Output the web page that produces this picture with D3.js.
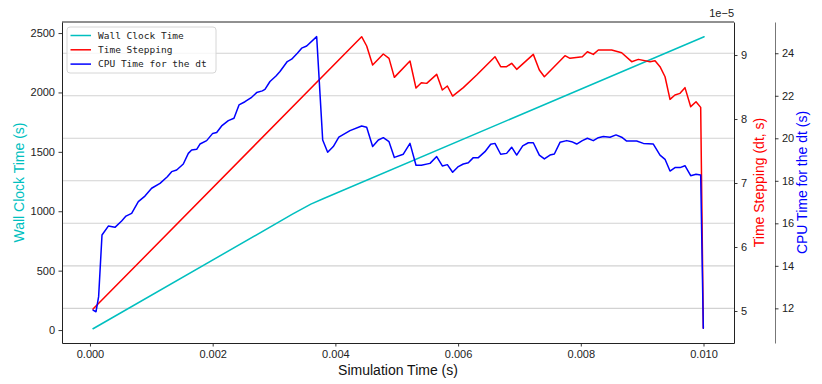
<!DOCTYPE html>
<html>
<head>
<meta charset="utf-8">
<script src="https://cdn.jsdelivr.net/npm/d3@7"></script>
<style>
body { margin: 0; background: #fff; }
text { font-family: "Liberation Sans", Arial, sans-serif; }
</style>
</head>
<body>
<svg id="chart" width="822" height="384"></svg>
<script>
// wall clock time (s) vs simulation time (s)
var wallTime  = [0.00005, 0.0033, 0.0036, 0.0038, 0.01001];
var wallClock = [11, 975, 1060, 1105, 2469];

// time step dt, values in units of 1e-5 s
var dtTime = [0.00005, 0.004428, 0.00451, 0.004607, 0.004781, 0.004874, 0.004961, 0.005216,
  0.005314, 0.005401, 0.005488, 0.005651, 0.005743, 0.005825, 0.005911, 0.006085, 0.006303,
  0.006601, 0.006694, 0.006791, 0.006873, 0.006955, 0.007226, 0.007324, 0.007406, 0.007742,
  0.007824, 0.008025, 0.008107, 0.008204, 0.008286, 0.008503, 0.008666, 0.008829, 0.008938,
  0.009128, 0.00921, 0.009291, 0.009373, 0.009454, 0.009535, 0.009617, 0.009698, 0.009791,
  0.009878, 0.009954, 0.009997];
var dtValues = [5.03, 9.286, 9.141, 8.844, 9.016, 8.948, 8.651, 8.906,
  8.484, 8.568, 8.557, 8.698, 8.453, 8.516, 8.359, 8.49, 8.688,
  8.974, 8.818, 8.818, 8.87, 8.776, 9.01, 8.766, 8.661, 8.99,
  8.948, 8.974, 9.052, 9.01, 9.078, 9.078, 9.036, 8.896, 8.932,
  8.896, 8.911, 8.818, 8.661, 8.307, 8.375, 8.401, 8.49, 8.193,
  8.271, 8.182, 4.73];

// CPU time per step (s)
var cpuTime = [0.00005, 0.000098, 0.000141, 0.000196, 0.000299, 0.000407, 0.000516, 0.000587,
  0.000679, 0.000788, 0.000896, 0.001005, 0.001141, 0.001261, 0.001331, 0.001413, 0.001521,
  0.001603, 0.001657, 0.001739, 0.001793, 0.001902, 0.002, 0.002065, 0.002146, 0.002255,
  0.002347, 0.002429, 0.002526, 0.002635, 0.002717, 0.002809, 0.002852, 0.002934, 0.003032,
  0.003097, 0.003216, 0.003287, 0.00338, 0.00345, 0.003532, 0.003695, 0.003793, 0.003874,
  0.003966, 0.004056, 0.004238, 0.004428, 0.00451, 0.004607, 0.0047, 0.004781, 0.004874,
  0.004961, 0.005107, 0.005216, 0.005314, 0.005401, 0.005542, 0.005651, 0.005743, 0.005825,
  0.005911, 0.006004, 0.006085, 0.006167, 0.006248, 0.00633, 0.006438, 0.006531, 0.006601,
  0.006694, 0.006791, 0.006873, 0.006955, 0.007053, 0.007145, 0.007226, 0.007324, 0.007406,
  0.007498, 0.007569, 0.007661, 0.00777, 0.007851, 0.007933, 0.008025, 0.008107, 0.008204,
  0.008286, 0.008367, 0.008476, 0.008574, 0.008666, 0.008748, 0.008911, 0.00902, 0.009182,
  0.009291, 0.009373, 0.009454, 0.009535, 0.009617, 0.009698, 0.009791, 0.009878, 0.009954,
  0.009997];
var cpuValues = [11.92, 11.84, 12.55, 15.45, 15.87, 15.81, 16.11, 16.34,
  16.47, 17.02, 17.28, 17.65, 17.88, 18.19, 18.43, 18.51, 18.79,
  19.29, 19.45, 19.48, 19.73, 19.89, 20.23, 20.27, 20.58, 20.83,
  20.94, 21.57, 21.72, 21.93, 22.15, 22.23, 22.3, 22.67, 22.93,
  23.14, 23.61, 23.72, 24.0, 24.24, 24.34, 24.78, 19.92, 19.34,
  19.61, 20.05, 20.36, 20.58, 20.52, 19.61, 19.92, 20.03, 19.84,
  19.1, 19.25, 19.76, 18.73, 18.73, 18.82, 19.14, 18.7, 18.76,
  18.4, 18.67, 18.79, 18.85, 19.09, 19.09, 19.37, 19.72, 19.76,
  19.25, 19.29, 19.58, 19.21, 19.64, 19.79, 19.79, 19.21, 19.03,
  19.21, 19.26, 19.81, 19.89, 19.84, 19.73, 19.89, 20.0, 19.89,
  20.03, 20.08, 20.05, 20.16, 20.05, 19.87, 19.87, 19.76, 19.73,
  19.21, 19.01, 18.46, 18.62, 18.62, 18.71, 18.24, 18.31, 18.27,
  11.06];

var xTicks = [0, 0.002, 0.004, 0.006, 0.008, 0.010];
var wallTicks = [0, 500, 1000, 1500, 2000, 2500];
var dtTicks = [5, 6, 7, 8, 9];
var cpuTicks = [12, 14, 16, 18, 20, 22, 24];
var seriesNames = ["Wall Clock Time", "Time Stepping", "CPU Time for the dt"];
var seriesColors = ["#00bfbf", "#ff0000", "#0000ff"];

var svg = d3.select("#chart"),
    margin = {top: 22, right: 88, bottom: 41, left: 62},
    width = +svg.attr("width") - margin.left - margin.right,
    height = +svg.attr("height") - margin.top - margin.bottom,
    g = svg.append("g").attr("transform", "translate(" + margin.left + "," + margin.top + ")");

var x = d3.scaleLinear().domain([-0.000456, 0.010497]).range([0, width]);
var yWall = d3.scaleLinear().domain([-109, 2593]).range([height, 0]);
var yDt = d3.scaleLinear().domain([4.5, 9.516]).range([height, 0]);
var yCpu = d3.scaleLinear().domain([10.37, 25.47]).range([height, 0]);

// grid from the CPU axis
g.append("g")
    .selectAll("line")
    .data(cpuTicks)
    .enter().append("line")
    .attr("x1", 0).attr("x2", width)
    .attr("y1", function(d) { return yCpu(d); })
    .attr("y2", function(d) { return yCpu(d); })
    .attr("stroke", "#d2d2d2")
    .attr("stroke-width", 1.1);

function pairs(xs, ys) {
    return xs.map(function(t, i) { return [t, ys[i]]; });
}

var lines = [
    {data: pairs(wallTime, wallClock), y: yWall, color: seriesColors[0]},
    {data: pairs(dtTime, dtValues), y: yDt, color: seriesColors[1]},
    {data: pairs(cpuTime, cpuValues), y: yCpu, color: seriesColors[2]}
];

lines.forEach(function(s) {
    g.append("path")
        .datum(s.data)
        .attr("fill", "none")
        .attr("stroke", s.color)
        .attr("stroke-width", 1.5)
        .attr("stroke-linejoin", "round")
        .attr("stroke-linecap", "round")
        .attr("d", d3.line()
            .x(function(d) { return x(d[0]); })
            .y(function(d) { return s.y(d[1]); }));
});

function styleAxis(sel, color) {
    sel.selectAll("text").attr("font-size", 11).attr("fill", "#222");
    sel.selectAll(".tick line").attr("stroke", "#222").attr("stroke-width", 0.9);
    sel.select(".domain").attr("stroke", color || "#222").attr("stroke-width", 1);
}

g.append("g")
    .attr("transform", "translate(0," + height + ")")
    .call(d3.axisBottom(x).tickValues(xTicks).tickFormat(d3.format(".3f")).tickSize(3.5).tickSizeOuter(0).tickPadding(4))
    .call(styleAxis);

g.append("g")
    .call(d3.axisLeft(yWall).tickValues(wallTicks).tickFormat(d3.format("d")).tickSize(3.5).tickSizeOuter(0).tickPadding(3.5))
    .call(styleAxis);

g.append("g")
    .attr("transform", "translate(" + width + ",0)")
    .call(d3.axisRight(yDt).tickValues(dtTicks).tickFormat(d3.format("d")).tickSize(3.5).tickSizeOuter(0).tickPadding(3.5))
    .call(styleAxis);

g.append("g")
    .attr("transform", "translate(" + (width + 41) + ",0)")
    .call(d3.axisRight(yCpu).tickValues(cpuTicks).tickSize(3.5).tickSizeOuter(0).tickPadding(3.5))
    .call(function(sel) { styleAxis(sel, "#777"); });

// top spine
g.append("line")
    .attr("x1", 0).attr("x2", width).attr("y1", 0).attr("y2", 0)
    .attr("stroke", "#222").attr("stroke-width", 1);

// offset text of the dt axis
g.append("text")
    .attr("x", width).attr("y", -5)
    .attr("text-anchor", "end")
    .attr("font-size", 11).attr("fill", "#222")
    .text("1e\u22125");

// axis labels
svg.append("text")
    .attr("x", margin.left + width / 2).attr("y", 375)
    .attr("text-anchor", "middle")
    .attr("font-size", 14).attr("fill", "#111")
    .text("Simulation Time (s)");

var yLabels = [
    {text: "Wall Clock Time (s)", x: 19, color: seriesColors[0]},
    {text: "Time Stepping (dt, s)", x: 759, color: seriesColors[1]},
    {text: "CPU Time for the dt (s)", x: 802, color: seriesColors[2]}
];
yLabels.forEach(function(l) {
    svg.append("text")
        .attr("transform", "translate(" + l.x + "," + (margin.top + height / 2) + ") rotate(-90)")
        .attr("text-anchor", "middle")
        .attr("dominant-baseline", "central")
        .attr("font-size", 14)
        .attr("fill", l.color)
        .text(l.text);
});

// legend
var legend = g.append("g").attr("transform", "translate(5,5)");
legend.append("rect")
    .attr("width", 149).attr("height", 46)
    .attr("rx", 3).attr("ry", 3)
    .attr("fill", "#fff").attr("fill-opacity", 0.8)
    .attr("stroke", "#d6d6d6").attr("stroke-width", 1);

var items = legend.selectAll(".item")
    .data(seriesNames)
    .enter().append("g")
    .attr("transform", function(d, i) { return "translate(0," + (8.5 + i * 14.3) + ")"; });

items.append("line")
    .attr("x1", 3.5).attr("x2", 24)
    .attr("stroke", function(d, i) { return seriesColors[i]; })
    .attr("stroke-width", 1.5);

items.append("text")
    .attr("x", 31)
    .attr("dy", "0.35em")
    .style("font-family", "'DejaVu Sans Mono', monospace")
    .attr("font-size", 9.5)
    .attr("fill", "#222")
    .text(function(d) { return d; });
</script>
</body>
</html>
